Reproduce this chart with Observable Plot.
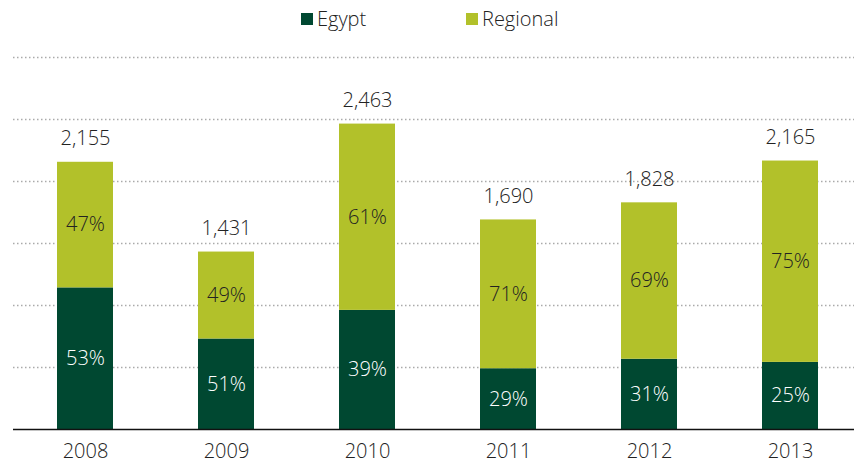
<!DOCTYPE html>
<html>
<head>
<meta charset="utf-8">
<script src="https://cdn.jsdelivr.net/npm/d3@7"></script>
<script src="https://cdn.jsdelivr.net/npm/@observablehq/plot@0.6"></script>
<style>
  html, body { margin: 0; padding: 0; background: #fff; }
  body { width: 854px; height: 464px; overflow: hidden; font-family: "Open Sans", "Noto Sans", sans-serif; }
  #legend { height: 40px; position: relative; font-size: 20px; color: #222; font-weight: 300; }
  #legend .item { position: absolute; top: 5px; display: flex; align-items: center; }
  #legend .sw { width: 12px; height: 12px; margin-right: 4px; }
  #chart svg { display: block; overflow: hidden; }
</style>
</head>
<body>
<div id="legend"></div>
<div id="chart"></div>
<script>
const years = ["2008", "2009", "2010", "2011", "2012", "2013"];
const totals = [2155, 1431, 2463, 1690, 1828, 2165];
const egyptPct = [53, 51, 39, 29, 31, 25];
const regionalPct = [47, 49, 61, 71, 69, 75];
const seriesNames = ["Egypt", "Regional"];
const seriesColors = ["#004831", "#b2c12a"];
const yTicks = [500, 1000, 1500, 2000, 2500, 3000];

// legend
const legend = document.getElementById("legend");
const legendLeft = [301, 466];
seriesNames.forEach((n, i) => {
  const it = document.createElement("div");
  it.className = "item";
  it.style.left = legendLeft[i] + "px";
  it.innerHTML = `<span class="sw" style="background:${seriesColors[i]}"></span><span>${n}</span>`;
  legend.appendChild(it);
});

const rows = [];
years.forEach((y, i) => {
  const eg = totals[i] * egyptPct[i] / 100;
  rows.push({year: y, series: "Egypt", y1: 0, y2: eg, pct: egyptPct[i]});
  rows.push({year: y, series: "Regional", y1: eg, y2: totals[i], pct: regionalPct[i]});
});
const totalRows = years.map((y, i) => ({year: y, total: totals[i]}));

const FONT = "'Open Sans', 'Noto Sans', sans-serif";
const chart = Plot.plot({
  width: 854,
  height: 424,
  marginTop: 17,
  marginBottom: 35,
  marginLeft: 13,
  marginRight: 0,
  style: {fontFamily: FONT, fontSize: "20px", color: "#222", fontWeight: 300},
  x: {domain: years, range: [13, 862], paddingInner: 0.6, paddingOuter: 0.3, axis: null},
  y: {domain: [0, 3000], axis: null},
  color: {domain: seriesNames, range: seriesColors},
  marks: [
    Plot.ruleY(yTicks, {stroke: "#aaa", strokeDasharray: "1.5,2.5", strokeWidth: 1.3}),
    Plot.rectY(rows, {x: "year", y1: "y1", y2: "y2", fill: "series"}),
    Plot.ruleY([0], {stroke: "#111", strokeWidth: 1.5}),
    Plot.axisX({tickSize: 0, tickPadding: 14, fontSize: 20, label: null, fill: "#222"}),
    Plot.text(rows, {x: "year", y: d => (d.y1 + d.y2) / 2, text: d => d.pct + "%",
      fill: d => d.series === "Egypt" ? "#ffffff" : "#222", fontSize: 20, letterSpacing: "0.5px"}),
    Plot.text(totalRows, {x: "year", y: "total", text: d => d3.format(",")(d.total),
      lineAnchor: "bottom", dy: -17, fill: "#222", fontSize: 20})
  ]
});
document.getElementById("chart").appendChild(chart);
</script>
</body>
</html>
